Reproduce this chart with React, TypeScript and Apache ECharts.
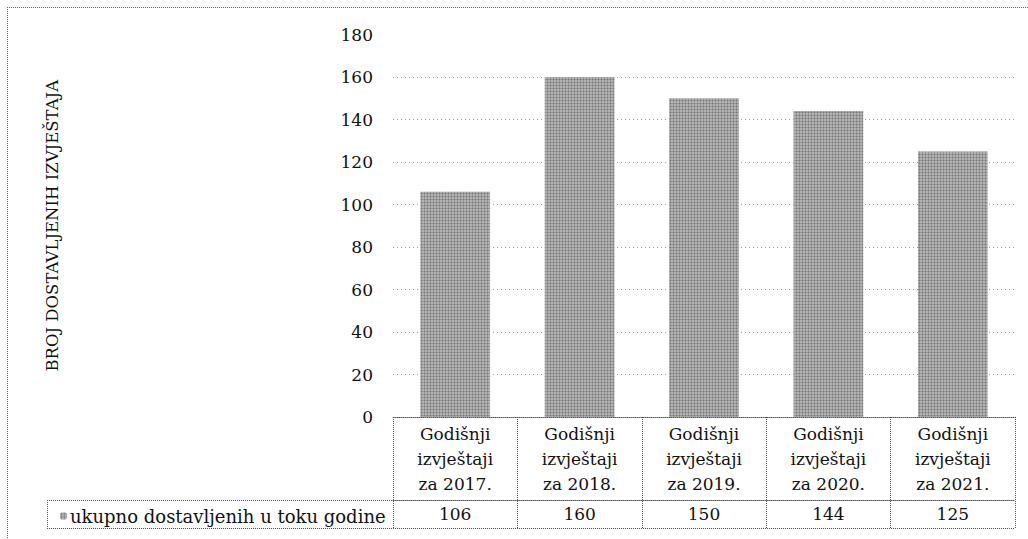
import React, { useEffect, useRef } from "react";
import * as echarts from "echarts";

const categories = [
  "Godišnji\nizvještaji\nza 2017.",
  "Godišnji\nizvještaji\nza 2018.",
  "Godišnji\nizvještaji\nza 2019.",
  "Godišnji\nizvještaji\nza 2020.",
  "Godišnji\nizvještaji\nza 2021.",
];
const values = [106, 160, 150, 144, 125];
const seriesName = "ukupno dostavljenih u toku godine";
const yTitle = "BROJ DOSTAVLJENIH IZVJEŠTAJA";

const FONT = "DejaVu Serif";
const INK = "#111";

export default function App() {
  const ref = useRef<HTMLDivElement>(null);
  useEffect(() => {
    document.body.style.margin = "0";
    const chart = echarts.init(ref.current!, null, { renderer: "svg" });
    const dotted = { color: "#555", type: "dotted" as const, width: 1 };
    chart.setOption({
      animation: false,
      backgroundColor: "#fff",
      textStyle: { fontFamily: FONT, color: INK },
      grid: { left: 393, right: 13, top: 34.5, bottom: 122 },
      legend: {
        left: 55,
        top: 502,
        itemWidth: 7,
        itemHeight: 7,
        itemGap: 4,
        textStyle: { fontFamily: FONT, fontSize: 18, color: INK, padding: [0, 0, 0, -2] },
        data: [seriesName],
      },
      xAxis: [
        {
          type: "category",
          data: categories,
          position: "bottom",
          axisLine: { show: true, lineStyle: dotted },
          axisTick: { show: true, length: 111, lineStyle: dotted },
          axisLabel: {
            margin: 4,
            fontFamily: FONT,
            fontSize: 17,
            lineHeight: 25,
            color: INK,
            interval: 0,
          },
        },
        {
          type: "category",
          data: values.map(String),
          position: "bottom",
          offset: 83,
          axisLine: { show: true, lineStyle: dotted },
          axisTick: { show: false },
          axisLabel: {
            margin: 4,
            fontFamily: FONT,
            fontSize: 17,
            lineHeight: 20,
            color: INK,
            interval: 0,
          },
        },
      ],
      yAxis: {
        type: "value",
        min: 0,
        max: 180,
        interval: 20,
        name: yTitle,
        nameLocation: "middle",
        nameRotate: 90,
        nameGap: 332,
        nameTextStyle: { fontFamily: FONT, fontSize: 16.5, color: INK },
        axisLine: { show: false },
        axisTick: { show: false },
        axisLabel: { margin: 20, fontFamily: FONT, fontSize: 17, color: INK },
        splitLine: {
          show: true,
          lineStyle: {
            color: ["transparent", "#a0a0a0", "#a0a0a0", "#a0a0a0", "#a0a0a0", "#a0a0a0", "#a0a0a0", "#a0a0a0", "#a0a0a0", "transparent"],
            type: [1, 3],
            width: 1,
          },
        },
      },
      series: [
        {
          name: seriesName,
          type: "bar",
          data: values,
          barWidth: "56%",
          itemStyle: {
            color: "#b8b8b8",
            decal: {
              symbol: "circle",
              symbolSize: 0.7,
              color: "rgba(40,40,40,0.45)",
              dashArrayX: [3, 0],
              dashArrayY: [3, 0],
              rotation: 0,
            },
          },
        },
      ],
      graphic: [
        { type: "line", shape: { x1: 7, y1: 7.5, x2: 1028, y2: 7.5 }, style: { stroke: "#666", lineDash: [1, 1], lineWidth: 1 } },
        { type: "line", shape: { x1: 7.5, y1: 7, x2: 7.5, y2: 539 }, style: { stroke: "#666", lineDash: [1, 1], lineWidth: 1 } },
        { type: "line", shape: { x1: 47, y1: 500.5, x2: 393, y2: 500.5 }, style: { stroke: "#555", lineDash: [1, 1], lineWidth: 1 } },
        { type: "line", shape: { x1: 47, y1: 528.5, x2: 1015, y2: 528.5 }, style: { stroke: "#555", lineDash: [1, 1], lineWidth: 1 } },
        { type: "line", shape: { x1: 47.5, y1: 500, x2: 47.5, y2: 529 }, style: { stroke: "#555", lineDash: [1, 1], lineWidth: 1 } },
      ],
    });
    return () => chart.dispose();
  }, []);
  return <div ref={ref} style={{ width: 1028, height: 539 }} />;
}
